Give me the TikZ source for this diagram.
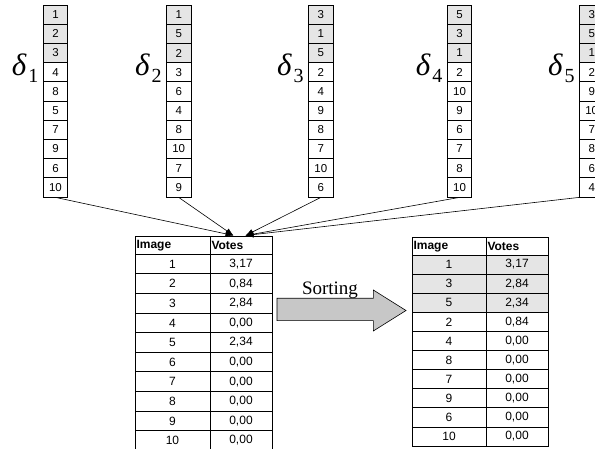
\documentclass[tikz,border=0pt]{standalone}
\usepackage{fontspec}
\setmainfont{Liberation Sans}
\newfontfamily\timesfont{Liberation Serif}
\usetikzlibrary{arrows.meta}
\definecolor{cellgray}{gray}{0.9}
\definecolor{arrowgray}{gray}{0.78}

\begin{document}
\begin{tikzpicture}[x=1pt,y=-1pt]
	\tikzset{>={Latex[length=8pt,width=6pt]}}
	\tikzset{
		rankcell/.style={draw, line width=0.8pt, minimum width=24.4pt, minimum height=19.2pt, inner sep=0pt, font=\fontsize{11.5}{11.5}\selectfont},
		tabcell/.style={draw, line width=0.8pt, inner sep=0pt, font=\fontsize{12}{12}\selectfont},
		headcell/.style={tabcell, inner xsep=1.5pt, align=left, font=\bfseries\fontsize{12}{12}\selectfont},
		deltalabel/.style={anchor=east, inner sep=0pt, font=\timesfont\itshape\fontsize{31}{31}\selectfont}
	}
	\useasboundingbox (0,0) rectangle (595,449);
	\clip (0,0) rectangle (595,449);

	% rankings
	\foreach \k/\xc/\vals in {1/55.5/{1,2,3,4,8,5,7,9,6,10}, 2/178.7/{1,5,2,3,6,4,8,10,7,9}, 3/320.8/{3,1,5,2,4,9,8,7,10,6}, 4/459.5/{5,3,1,2,10,9,6,7,8,10}, 5/591.7/{3,5,1,2,9,10,7,8,6,4}} {
		\foreach \v [count=\i] in \vals {
			\ifnum\i<4 \def\cellfill{cellgray}\else\def\cellfill{white}\fi
			\node[rankcell, fill=\cellfill] (c\k-\i) at (\xc, 19.2*\i-4.6) {\v};
		}
		\node[deltalabel] (d\k) at (\xc-17, 68) {δ\kern2pt\raisebox{-7pt}{\upshape\fontsize{20}{20}\selectfont\k}};
	}

	% votes table
	\node[headcell, text width=72pt, minimum height=17.6pt] (img1-h) at (172.5,245.5) {Image};
	\node[headcell, text width=59pt, minimum height=17.6pt] (vote1-h) at (241,245.5) {Votes};
	\foreach \img/\vote [count=\i] in {1/{3,17}, 2/{0,84}, 3/{2,84}, 4/{0,00}, 5/{2,34}, 6/{0,00}, 7/{0,00}, 8/{0,00}, 9/{0,00}, 10/{0,00}} {
		\node[tabcell, minimum width=75pt, minimum height=19.6pt] (img1-\i) at (172.5, 19.6*\i+244.5) {\img};
		\node[tabcell, minimum width=62pt, minimum height=19.6pt] (vote1-\i) at (241, 19.6*\i+244.5) {\vote};
	}

	% sorted table
	\node[headcell, text width=71pt, minimum height=17.3pt] (img2-h) at (449,246.35) {Image};
	\node[headcell, text width=59pt, minimum height=17.3pt] (vote2-h) at (517,246.35) {Votes};
	\foreach \img/\vote [count=\i] in {1/{3,17}, 3/{2,84}, 5/{2,34}, 2/{0,84}, 4/{0,00}, 8/{0,00}, 7/{0,00}, 9/{0,00}, 6/{0,00}, 10/{0,00}} {
		\ifnum\i<4 \def\cellfill{cellgray}\else\def\cellfill{white}\fi
		\node[tabcell, fill=\cellfill, minimum width=74pt, minimum height=19.1pt] (img2-\i) at (449, 19.1*\i+245.45) {\img};
		\node[tabcell, fill=\cellfill, minimum width=62pt, minimum height=19.1pt] (vote2-\i) at (517, 19.1*\i+245.45) {\vote};
	}

	% votes arrive
	\coordinate (inleft) at (233.5,235.5);
	\coordinate (inright) at (245.5,235.5);
	\draw[->, line width=0.6pt] (c1-10.south) -- (inleft);
	\draw[->, line width=0.6pt] (c2-10.south) -- (inleft);
	\draw[->, line width=0.6pt] (c3-10.south) -- (inright);
	\draw[->, line width=0.6pt] (c4-10.south) -- (inright);
	\draw[->, line width=0.6pt] (c5-10.south west) -- (inright);

	% sorting arrow
	\draw[fill=arrowgray, line width=0.6pt] (277,298.3) -- (373.3,298.3) -- (373.3,290) -- (406,310.5) -- (373.3,331) -- (373.3,320.7) -- (277,320.7) -- cycle;
	\node[anchor=base, font=\timesfont\fontsize{19}{19}\selectfont] (sortlabel) at (330,295) {Sorting};

\end{tikzpicture}
\end{document}
